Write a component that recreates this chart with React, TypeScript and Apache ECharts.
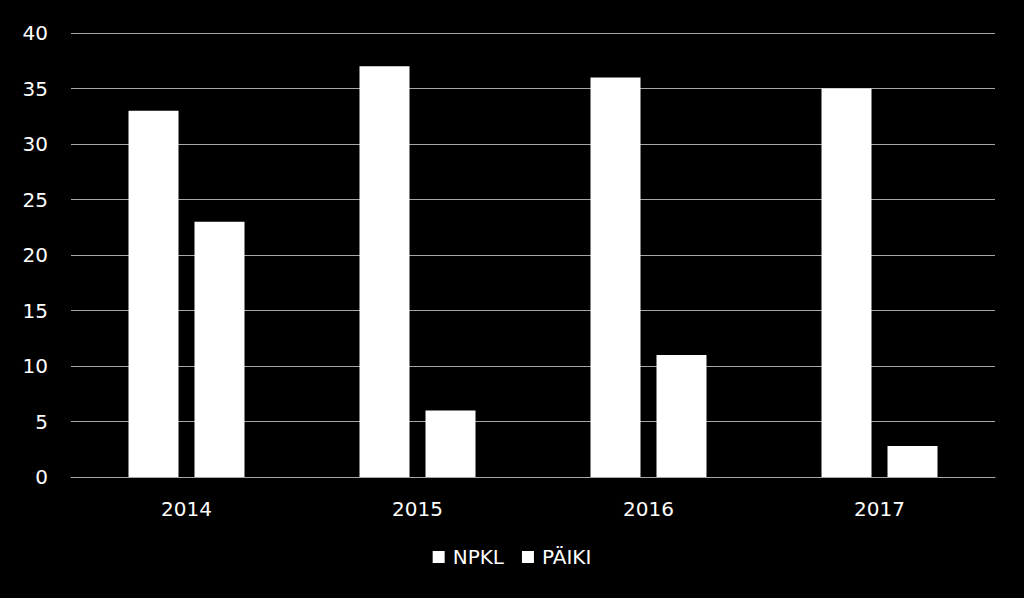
import React, { useEffect, useRef } from "react";
import * as echarts from "echarts";

const categories = ["2014", "2015", "2016", "2017"];
const npkl = [33, 37, 36, 35];
const paiki = [23, 6, 11, 2.8];
const seriesNames = ["NPKL", "PÄIKI"];

export default function App() {
  const ref = useRef<HTMLDivElement>(null);
  useEffect(() => {
    const chart = echarts.init(ref.current!, undefined, { renderer: "svg" });
    const font = "'Century Gothic', 'DejaVu Sans', sans-serif";
    chart.setOption({
      animation: false,
      backgroundColor: "#000000",
      textStyle: { fontFamily: font },
      grid: { left: 71, right: 29, top: 33, bottom: 121, containLabel: false },
      legend: {
        data: seriesNames,
        bottom: 26,
        left: "center",
        icon: "rect",
        itemWidth: 12,
        itemHeight: 12,
        itemGap: 18,
        textStyle: { color: "#ffffff", fontSize: 20, fontFamily: font, padding: [0, 0, 0, 3] },
      },
      xAxis: {
        type: "category",
        data: categories,
        axisLine: { lineStyle: { color: "#a6a6a6", width: 1 } },
        axisTick: { show: false },
        axisLabel: { color: "#ffffff", fontSize: 20, margin: 22, fontFamily: font },
      },
      yAxis: {
        type: "value",
        min: 0,
        max: 40,
        interval: 5,
        axisLine: { show: false },
        axisTick: { show: false },
        axisLabel: { color: "#ffffff", fontSize: 20, margin: 23, fontFamily: font },
        splitLine: { lineStyle: { color: "#a6a6a6", width: 1 } },
      },
      series: [
        {
          name: seriesNames[0],
          type: "bar",
          data: npkl,
          itemStyle: { color: "#ffffff" },
          barWidth: 50,
          barGap: "32%",
        },
        {
          name: seriesNames[1],
          type: "bar",
          data: paiki,
          itemStyle: { color: "#ffffff" },
          barWidth: 50,
          barGap: "32%",
        },
      ],
    });
    return () => chart.dispose();
  }, []);
  return (
    <div
      ref={ref}
      style={{ position: "absolute", left: 0, top: 0, width: 1024, height: 598, background: "#000" }}
    />
  );
}
